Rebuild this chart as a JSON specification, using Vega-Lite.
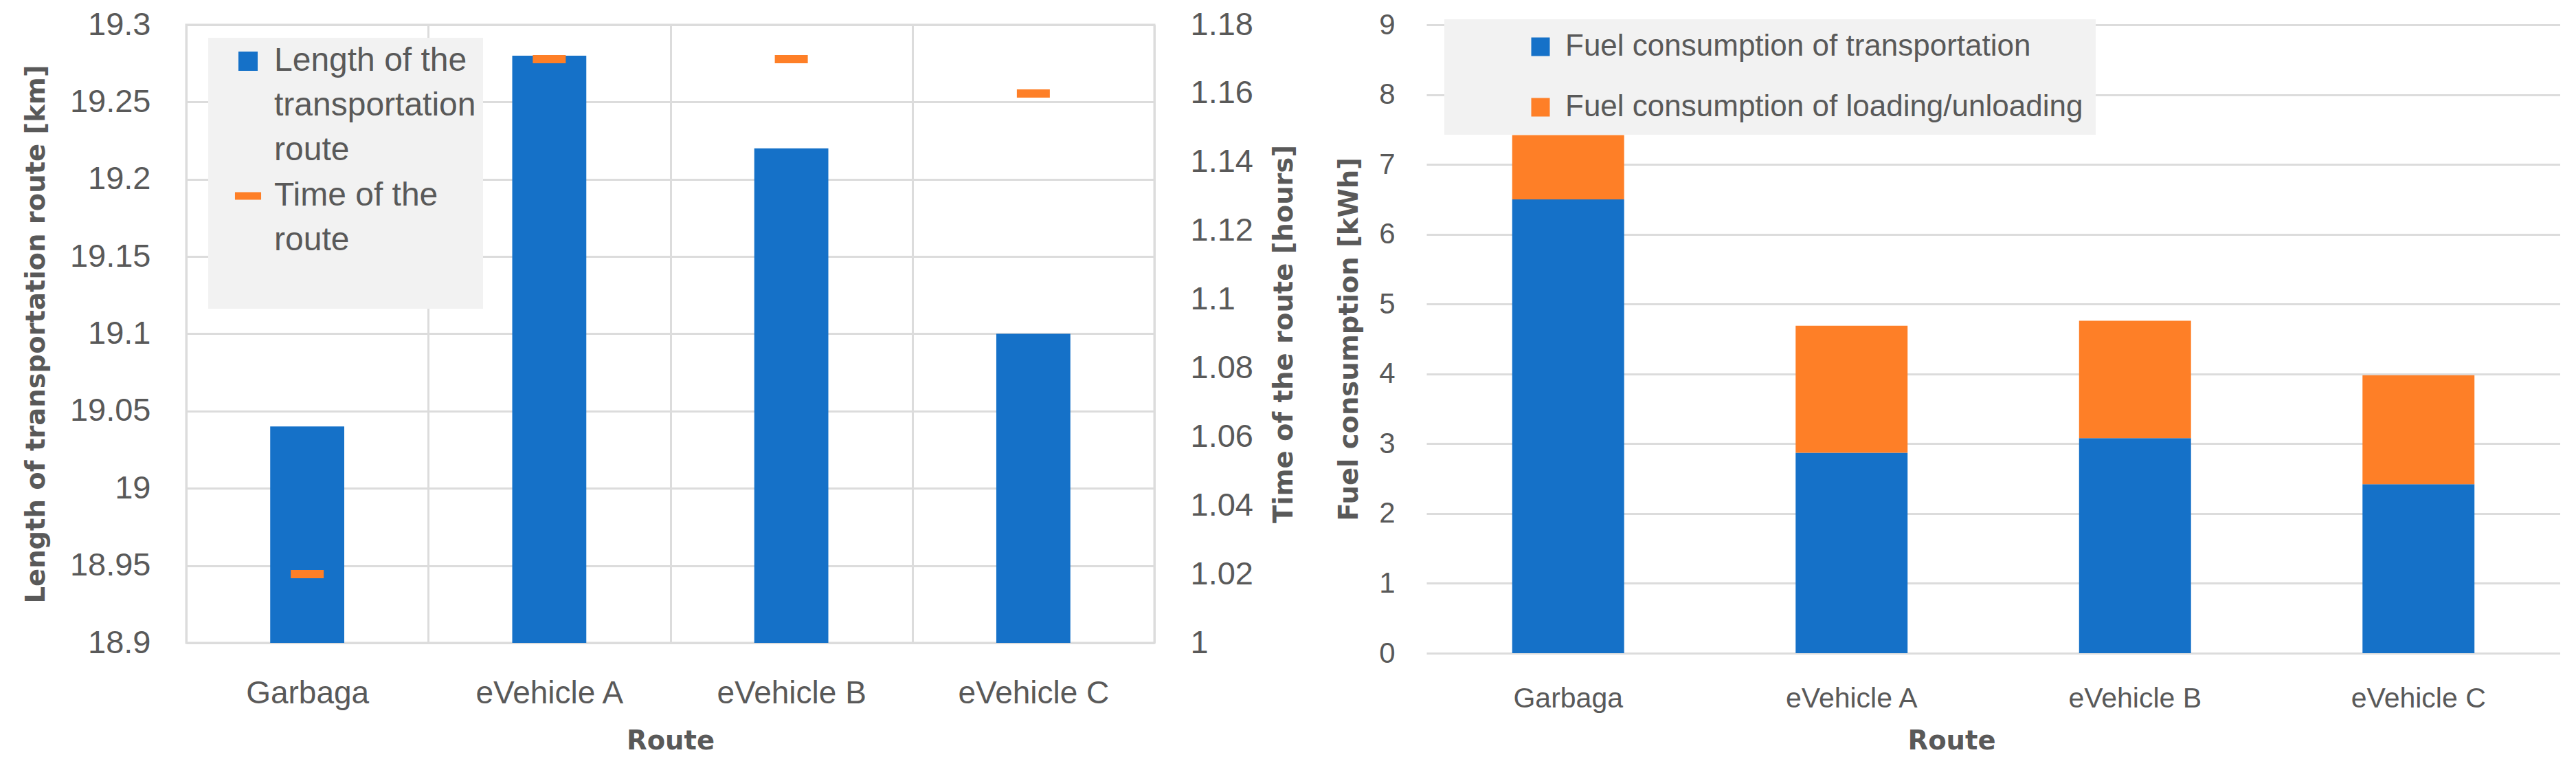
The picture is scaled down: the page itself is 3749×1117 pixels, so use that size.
{
  "$schema": "https://vega.github.io/schema/vega-lite/v6.json",
  "background": "white",
  "padding": {"left": 31, "top": 10, "right": 0, "bottom": 0},
  "spacing": 54,
  "align": "none",
  "config": {
    "font": "Liberation Sans",
    "view": {"stroke": null},
    "axis": {
      "labelColor": "#595959",
      "titleColor": "#595959",
      "titleFont": "DejaVu Sans",
      "titleFontWeight": "bold",
      "titleFontSize": 38.5,
      "labelFont": "Liberation Sans",
      "labelLimit": 1000,
      "domain": false,
      "ticks": false,
      "tickSize": 0,
      "gridColor": "#dcdcdc",
      "gridWidth": 3
    }
  },
  "datasets": {
    "routes": [
      {"route": "Garbaga", "length": 19.04, "time": 1.02},
      {"route": "eVehicle A", "length": 19.28, "time": 1.17},
      {"route": "eVehicle B", "length": 19.22, "time": 1.17},
      {"route": "eVehicle C", "length": 19.10, "time": 1.16}
    ],
    "fuel": [
      {"route": "Garbaga", "type": "Fuel consumption of transportation", "value": 6.5},
      {"route": "Garbaga", "type": "Fuel consumption of loading/unloading", "value": 0.92},
      {"route": "eVehicle A", "type": "Fuel consumption of transportation", "value": 2.87},
      {"route": "eVehicle A", "type": "Fuel consumption of loading/unloading", "value": 1.82},
      {"route": "eVehicle B", "type": "Fuel consumption of transportation", "value": 3.08},
      {"route": "eVehicle B", "type": "Fuel consumption of loading/unloading", "value": 1.68},
      {"route": "eVehicle C", "type": "Fuel consumption of transportation", "value": 2.42},
      {"route": "eVehicle C", "type": "Fuel consumption of loading/unloading", "value": 1.56}
    ]
  },
  "resolve": {"scale": {"color": "independent"}, "legend": {"color": "independent"}},
  "hconcat": [
    {
      "width": 1409,
      "height": 899,
      "view": {"stroke": "#dcdcdc", "strokeWidth": 3},
      "data": {"name": "routes"},
      "encoding": {
        "x": {
          "field": "route", "type": "nominal", "sort": null,
          "scale": {"paddingInner": 0, "paddingOuter": 0},
          "axis": {"title": "Route", "labelAngle": 0, "labelFontSize": 46, "labelPadding": 51, "titlePadding": 28, "grid": true, "tickBand": "extent"}
        }
      },
      "layer": [
        {
          "mark": {"type": "bar", "width": {"band": 0.306}},
          "encoding": {
            "y": {
              "field": "length", "type": "quantitative",
              "scale": {"domain": [18.9, 19.3], "zero": false, "nice": false},
              "axis": {"values": [18.9, 18.95, 19.0, 19.05, 19.1, 19.15, 19.2, 19.25, 19.3], "format": "~g", "title": "Length of transportation route [km]", "labelFontSize": 47, "labelPadding": 52, "titlePadding": 29, "grid": true}
            },
            "y2": {"datum": 18.9},
            "color": {
              "datum": "Length of the transportation route",
              "scale": {"domain": ["Length of the transportation route", "Time of the route"], "range": ["#1571c8", "#fe7f27"]},
              "legend": {
                "orient": "none", "legendX": 32, "legendY": 19, "title": null,
                "fillColor": "#f2f2f2", "padding": 10,
                "labelFont": "Liberation Sans", "labelFontSize": 48, "labelColor": "#595959", "labelBaseline": "middle", "labelLimit": 1000,
                "symbolOffset": 24, "labelOffset": 14, "rowPadding": 18,
                "symbolSize": 784, "symbolStrokeWidth": 0, "symbolType": "square",
                "labelExpr": "datum.value === 'Time of the route' ? ['Time of the', 'route', ''] : ['Length of the', 'transportation', 'route']",
                "encode": {
                  "symbols": {"update": {
                    "shape": {"signal": "datum.value === 'Time of the route' ? 'M-1.36,-0.4H1.36V0.4H-1.36Z' : 'square'"},
                    "fill": {"signal": "datum.value === 'Time of the route' ? '#fe7f27' : '#1571c8'"},
                    "strokeWidth": {"value": 0}
                  }},
                  "labels": {"update": {"lineHeight": {"value": 65}}}
                }
              }
            }
          }
        },
        {
          "mark": {"type": "tick", "size": 48, "thickness": 12},
          "encoding": {
            "y": {
              "field": "time", "type": "quantitative", "aggregate": "mean",
              "scale": {"domain": [1, 1.18], "zero": false, "nice": false},
              "axis": {"orient": "right", "values": [1, 1.02, 1.04, 1.06, 1.08, 1.1, 1.12, 1.14, 1.16, 1.18], "format": "~g", "title": "Time of the route [hours]", "labelFontSize": 47, "labelPadding": 52, "titlePadding": 27, "titleAngle": 270, "titleBaseline": "top", "grid": false}
            },
            "color": {"datum": "Time of the route"}
          }
        }
      ],
      "resolve": {"scale": {"y": "independent"}}
    },
    {
      "width": 1650,
      "height": 914,
      "data": {"name": "fuel"},
      "mark": {"type": "bar", "width": {"band": 0.395}},
      "encoding": {
        "x": {
          "field": "route", "type": "nominal", "sort": null,
          "scale": {"paddingInner": 0, "paddingOuter": 0},
          "axis": {"title": "Route", "labelAngle": 0, "labelFontSize": 41, "labelPadding": 46, "titlePadding": 23, "titleX": 764, "grid": false}
        },
        "y": {
          "field": "value", "type": "quantitative", "stack": "zero",
          "scale": {"domain": [0, 9], "nice": false},
          "axis": {"values": [0, 1, 2, 3, 4, 5, 6, 7, 8, 9], "title": "Fuel consumption [kWh]", "labelFontSize": 42, "labelPadding": 46, "titlePadding": 23, "grid": true}
        },
        "order": {"field": "type", "sort": "descending"},
        "color": {
          "field": "type", "type": "nominal",
          "scale": {"domain": ["Fuel consumption of transportation", "Fuel consumption of loading/unloading"], "range": ["#1571c8", "#fe7f27"]},
          "legend": {
            "orient": "none", "legendX": 26, "legendY": -8, "direction": "vertical", "title": null,
            "fillColor": "#f2f2f2", "padding": 18,
            "labelFont": "Liberation Sans", "labelFontSize": 44, "labelColor": "#595959", "labelLimit": 2000,
            "symbolType": "square", "symbolSize": 729, "symbolStrokeWidth": 0,
            "symbolOffset": 100, "labelOffset": 14, "rowPadding": 44
          }
        }
      }
    }
  ]
}
